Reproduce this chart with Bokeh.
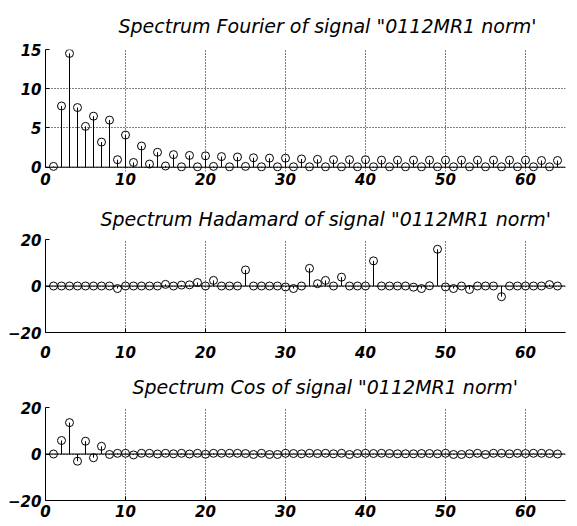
from bokeh.plotting import figure
from bokeh.layouts import column
from bokeh.models import Range1d, Span, FixedTicker
from bokeh.embed import file_html
from bokeh.resources import INLINE

# ---------------- data ----------------
n = list(range(1, 65))

fourier = [0.1, 7.8, 14.5, 7.6, 5.2, 6.5, 3.2, 6.0, 0.95, 4.1,
           0.6, 2.7, 0.4, 1.9, 0.15, 1.6, 0.05, 1.5, 0.05, 1.45,
           0.1, 1.35, 0.05, 1.3, 0.1, 1.2, 0.05, 1.15, 0.05, 1.15,
           0.05, 1.05, 0.05, 1.0, 0.05, 0.95, 0.05, 0.95, 0.05, 0.95,
           0.05, 0.9, 0.05, 0.9, 0.05, 0.9, 0.05, 0.9, 0.05, 0.9,
           0.05, 0.9, 0.05, 0.9, 0.05, 0.9, 0.05, 0.9, 0.05, 0.9,
           0.05, 0.85, 0.05, 0.85]

hadamard = [0, 0, 0, 0, 0, 0, 0, 0, -1.1, 0,
            0, 0, 0, 0, 0.7, 0, 0.4, 0.5, 1.5, 0,
            2.4, 0, 0, 0, 6.9, 0, 0, 0, 0, -0.4,
            -1.1, 0, 7.6, 1.0, 2.4, 0, 3.8, 0, 0, 0,
            10.8, 0, 0, 0, 0, -0.5, -1.1, 0.1, 15.8, -0.4,
            -1.1, 0, -1.5, 0, 0, 0, -4.6, 0, 0, 0,
            0, 0, 0.6, 0]

cosine = [0, 5.8, 13.5, -3.1, 5.5, -1.6, 3.3, -0.2, 0.3, 0.3,
          -0.4, 0.3, 0.3, 0.0, 0.3, 0.1, 0.3, 0.0, 0.3, -0.1,
          0.3, 0.3, 0.3, 0.3, 0.2, -0.2, 0.3, -0.2, -0.2, 0.3,
          0.2, 0.1, 0.3, 0.2, 0.3, 0.1, 0.3, -0.2, 0.2, 0.3,
          0.2, 0.3, 0.2, 0.1, 0.1, 0.1, 0.2, 0.2, 0.1, 0.3,
          -0.2, -0.2, 0.1, 0.3, -0.2, 0.3, 0.3, 0.1, 0.3, 0.2,
          0.3, 0.3, 0.2, 0.0]

x_ticks = [0, 10, 20, 30, 40, 50, 60]
fourier_yticks = [0, 5, 10, 15]
pm_yticks = [-20, 0, 20]

titles = [
    'Spectrum Fourier of signal "0112MR1 norm\'',
    'Spectrum Hadamard of signal "0112MR1 norm\'',
    'Spectrum Cos of signal "0112MR1 norm\'',
]

TICK_FONT = "DejaVu Sans"
TITLE_FONT = "DejaVu Sans"


def make(title, title_offset, title_standoff, vals, y0, y1, yticks, height,
         top, bottom, xstandoff, frame_bottom_axis):
    p = figure(width=577, height=height,
               x_range=Range1d(0, 65), y_range=Range1d(y0, y1),
               output_backend="svg", toolbar_location=None,
               min_border_left=45, min_border_right=12,
               min_border_top=top, min_border_bottom=bottom)
    p.outline_line_color = None
    p.background_fill_color = "white"
    p.border_fill_color = "white"

    p.title.text = title
    p.title.text_font = TITLE_FONT
    p.title.text_font_style = "italic"
    p.title.text_font_size = "19px"
    p.title.text_color = "black"
    p.title.align = "left"
    p.title.offset = title_offset
    p.title.standoff = title_standoff

    p.xaxis.ticker = FixedTicker(ticks=x_ticks)
    p.yaxis.ticker = FixedTicker(ticks=yticks)
    for ax in (p.xaxis, p.yaxis):
        ax.major_tick_in = 4
        ax.major_tick_out = 0
        ax.minor_tick_line_color = None
        ax.axis_line_color = "black"
        ax.major_tick_line_color = "black"
        ax.major_label_text_font = TICK_FONT
        ax.major_label_text_font_style = "bold italic"
        ax.major_label_text_font_size = "15px"
        ax.major_label_text_color = "black"
    p.yaxis.major_label_standoff = 4
    p.xaxis.major_label_standoff = xstandoff
    p.yaxis.bounds = (min(yticks), max(yticks))
    if not frame_bottom_axis:
        p.xaxis.axis_line_color = None
        p.xaxis.major_tick_line_color = None

    p.xgrid.ticker = FixedTicker(ticks=x_ticks)
    p.ygrid.ticker = FixedTicker(ticks=yticks)
    for g in (p.xgrid, p.ygrid):
        g.grid_line_color = "black"
        g.grid_line_dash = "1 2"
        g.grid_line_width = 1

    p.add_layout(Span(location=0, dimension="width", line_color="black",
                      line_width=1))

    p.segment(x0=n, y0=[0] * len(n), x1=n, y1=vals, line_color="black",
              line_width=1)
    p.scatter(n, vals, size=8, marker="circle", fill_color=None,
              line_color="black", line_width=1)
    return p


p1 = make(titles[0], 73, 25, fourier, -0.55, 15, fourier_yticks,
          195, 48, 24, 1, False)
p2 = make(titles[1], 55, 20, hadamard, -20, 20, pm_yticks,
          168, 43, 31, 13, True)
p3 = make(titles[2], 87, 20, cosine, -20, 20, pm_yticks,
          159, 43, 22, 4, True)

layout = column(p1, p2, p3, spacing=0)
open("out.html", "w").write(file_html(layout, INLINE))
